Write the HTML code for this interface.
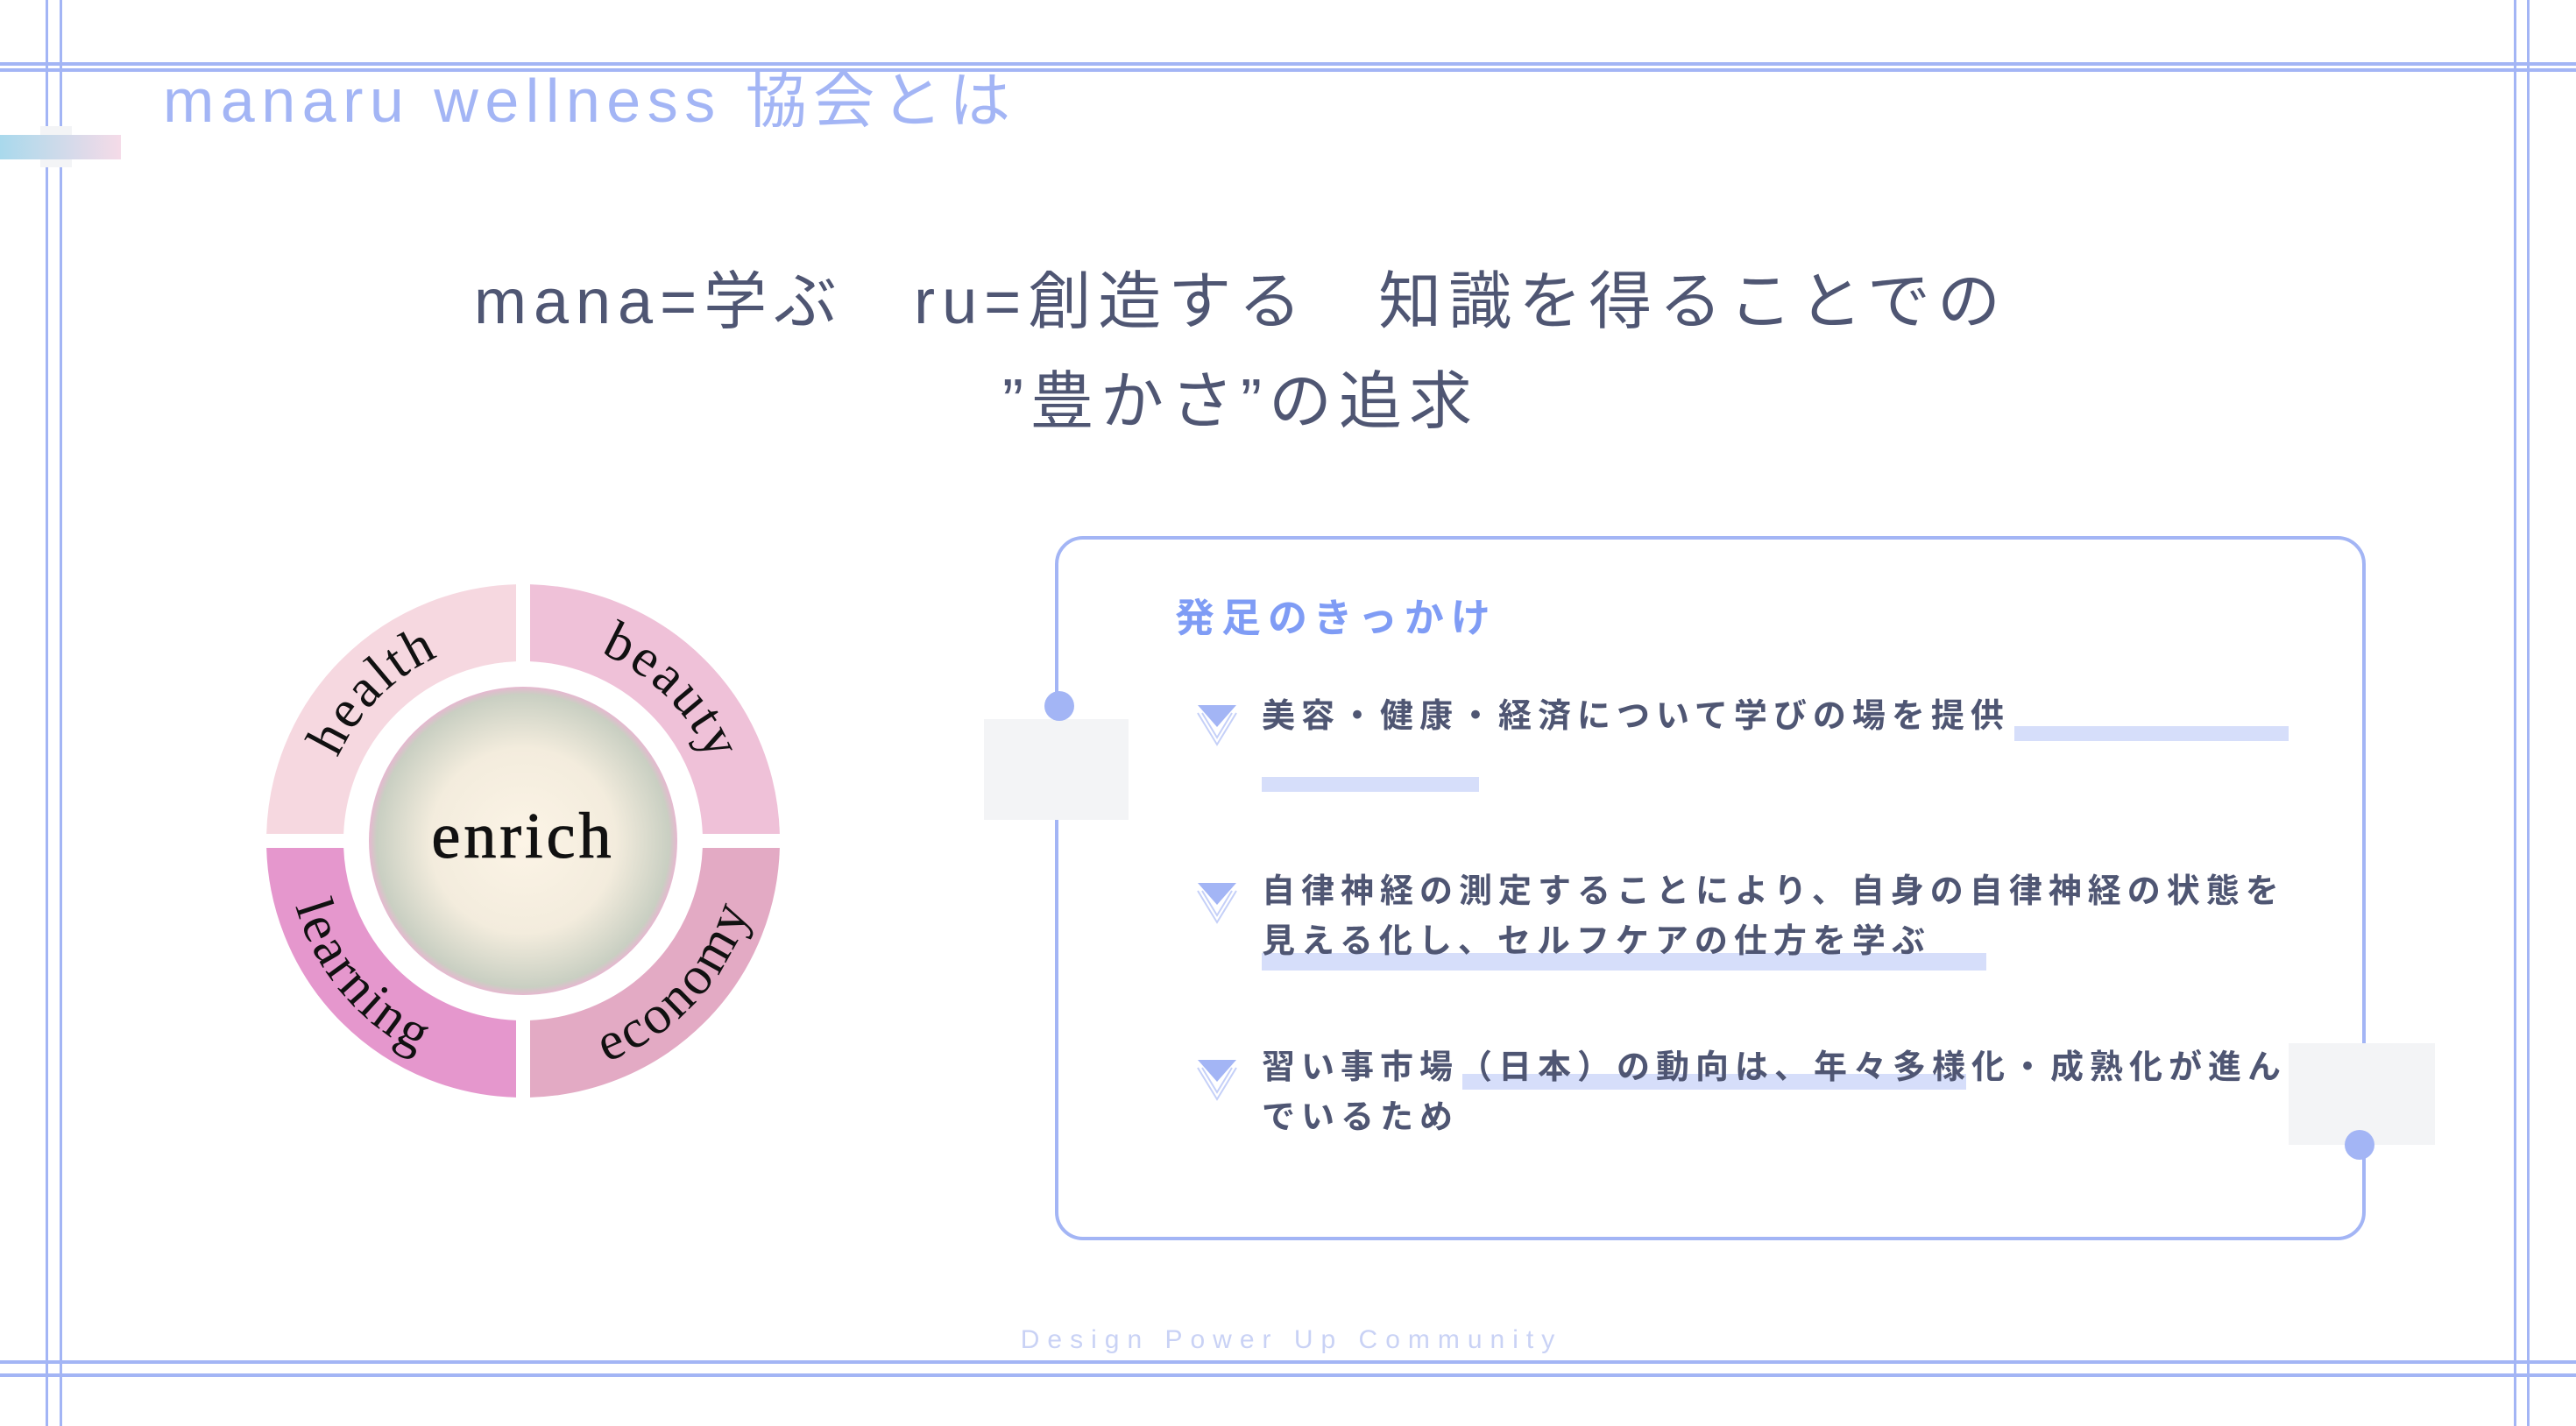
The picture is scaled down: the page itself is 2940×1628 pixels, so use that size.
<!DOCTYPE html>
<html><head><meta charset="utf-8">
<style>
html,body{margin:0;padding:0;background:#fff;}
body{width:2940px;height:1628px;position:relative;overflow:hidden;font-family:"Liberation Sans","Noto Sans CJK JP",sans-serif;}
.a{position:absolute;}
.hl{position:absolute;background:#a3b5f5;}
.bar{position:absolute;background:#d6defa;}
.it{position:absolute;left:1440px;font-size:38px;font-weight:bold;color:#4f5673;letter-spacing:7px;line-height:57px;white-space:nowrap;}
</style></head><body>
<div class="hl" style="left:0;top:71px;width:2940px;height:4px"></div>
<div class="hl" style="left:0;top:78px;width:2940px;height:4px"></div>
<div class="hl" style="left:0;top:1553px;width:2940px;height:4px"></div>
<div class="hl" style="left:0;top:1568px;width:2940px;height:4px"></div>
<div class="hl" style="left:52px;top:0;width:3px;height:1628px"></div>
<div class="hl" style="left:68px;top:0;width:3px;height:1628px"></div>
<div class="hl" style="left:2869px;top:0;width:3px;height:1628px"></div>
<div class="hl" style="left:2884px;top:0;width:3px;height:1628px"></div>
<div class="a" style="left:46px;top:144px;width:36px;height:47px;background:#f3f4f6"></div>
<div class="a" style="left:0;top:154px;width:138px;height:28px;background:linear-gradient(90deg,#a9d9ec,#f5dbe8)"></div>
<div class="a" style="left:186px;top:70px;font-size:70px;color:#a3b5f5;letter-spacing:7.5px;line-height:90px;white-space:nowrap">manaru wellness 協会とは</div>
<div class="a" style="left:0;width:2832px;top:288px;text-align:center;font-size:72px;color:#4f5673;letter-spacing:8px;line-height:114px;white-space:nowrap">mana=学ぶ　ru=創造する　知識を得ることでの<br>”豊かさ”の追求</div>
<svg class="a" style="left:0;top:0" width="1000" height="1400" viewBox="0 0 1000 1400">
<defs>
<radialGradient id="cg" cx="50%" cy="50%" r="50%">
<stop offset="0" stop-color="#fcf4e6"/><stop offset="0.6" stop-color="#f3ecdd"/><stop offset="0.95" stop-color="#c9cfc2"/><stop offset="1" stop-color="#e6b8d0"/>
</radialGradient>
<clipPath id="tl"><rect x="0" y="0" width="589" height="952"/></clipPath>
<clipPath id="tr"><rect x="605" y="0" width="400" height="952"/></clipPath>
<clipPath id="bl"><rect x="0" y="968" width="589" height="400"/></clipPath>
<clipPath id="br"><rect x="605" y="968" width="400" height="400"/></clipPath>
<path id="p1" d="M 373 1020 A 232 232 0 0 1 657 736"/>
<path id="p2" d="M 537 736 A 232 232 0 0 1 821 1020"/>
<path id="p3" d="M 343 868 A 270 270 0 0 0 644 1226"/>
<path id="p4" d="M 536 1223 A 270 270 0 0 0 855 881"/>
</defs>
<g fill="none" stroke-width="88">
<circle cx="597" cy="960" r="249" stroke="#f6d8e0" clip-path="url(#tl)"/>
<circle cx="597" cy="960" r="249" stroke="#efc1d8" clip-path="url(#tr)"/>
<circle cx="597" cy="960" r="249" stroke="#e597cd" clip-path="url(#bl)"/>
<circle cx="597" cy="960" r="249" stroke="#e3aac4" clip-path="url(#br)"/>
</g>
<circle cx="597" cy="960" r="176" fill="url(#cg)"/>
<text x="597" y="979" text-anchor="middle" font-family="Liberation Serif,serif" font-size="74" fill="#111" letter-spacing="4" stroke="#111" stroke-width="1">enrich</text>
<g font-family="Liberation Serif,serif" font-size="62" fill="#111" letter-spacing="3" text-anchor="middle">
<text><textPath href="#p1" startOffset="50%">health</textPath></text>
<text><textPath href="#p2" startOffset="50%">beauty</textPath></text>
<text><textPath href="#p3" startOffset="50%">learning</textPath></text>
<text><textPath href="#p4" startOffset="50%">economy</textPath></text>
</g>
</svg>
<div class="a" style="left:1204px;top:612px;width:1488px;height:796px;border:4px solid #a3b5f5;border-radius:32px"></div>
<div class="a" style="left:1123px;top:821px;width:165px;height:115px;background:#f3f4f6"></div>
<div class="a" style="left:2612px;top:1191px;width:167px;height:116px;background:#f3f4f6"></div>
<div class="a" style="left:1192px;top:789px;width:34px;height:34px;border-radius:50%;background:#a3b5f5"></div>
<div class="a" style="left:2676px;top:1290px;width:34px;height:34px;border-radius:50%;background:#a3b5f5"></div>
<div class="a" style="left:1341px;top:676px;font-size:45px;font-weight:bold;color:#7f9cf5;letter-spacing:8px;line-height:60px;white-space:nowrap">発足のきっかけ</div>
<div class="bar" style="left:2299px;top:829px;width:313px;height:17px"></div>
<div class="bar" style="left:1440px;top:887px;width:248px;height:17px"></div>
<div class="bar" style="left:1440px;top:1088px;width:827px;height:20px"></div>
<div class="bar" style="left:1669px;top:1226px;width:575px;height:18px"></div>
<svg class="a" style="left:1364px;top:800px" width="50" height="60" viewBox="0 0 50 60"><polygon points="3,5 47,5 25,30" fill="#a3b5f5"/><polyline points="3,14 25,50 47,14" fill="none" stroke="#c5d0f8" stroke-width="2"/><polyline points="8,14 25,42 42,14" fill="none" stroke="#c5d0f8" stroke-width="2"/></svg>
<svg class="a" style="left:1364px;top:1003px" width="50" height="60" viewBox="0 0 50 60"><polygon points="3,5 47,5 25,30" fill="#a3b5f5"/><polyline points="3,14 25,50 47,14" fill="none" stroke="#c5d0f8" stroke-width="2"/><polyline points="8,14 25,42 42,14" fill="none" stroke="#c5d0f8" stroke-width="2"/></svg>
<svg class="a" style="left:1364px;top:1205px" width="50" height="60" viewBox="0 0 50 60"><polygon points="3,5 47,5 25,30" fill="#a3b5f5"/><polyline points="3,14 25,50 47,14" fill="none" stroke="#c5d0f8" stroke-width="2"/><polyline points="8,14 25,42 42,14" fill="none" stroke="#c5d0f8" stroke-width="2"/></svg>
<div class="it" style="top:790px">美容・健康・経済について学びの場を提供</div>
<div class="it" style="top:990px">自律神経の測定することにより、自身の自律神経の状態を<br>見える化し、セルフケアの仕方を学ぶ</div>
<div class="it" style="top:1191px">習い事市場（日本）の動向は、年々多様化・成熟化が進ん<br>でいるため</div>
<div class="a" style="left:0;width:2948px;top:1510px;text-align:center;font-size:30px;color:#c9d2f5;letter-spacing:9px;line-height:40px">Design Power Up Community</div>
</body></html>
